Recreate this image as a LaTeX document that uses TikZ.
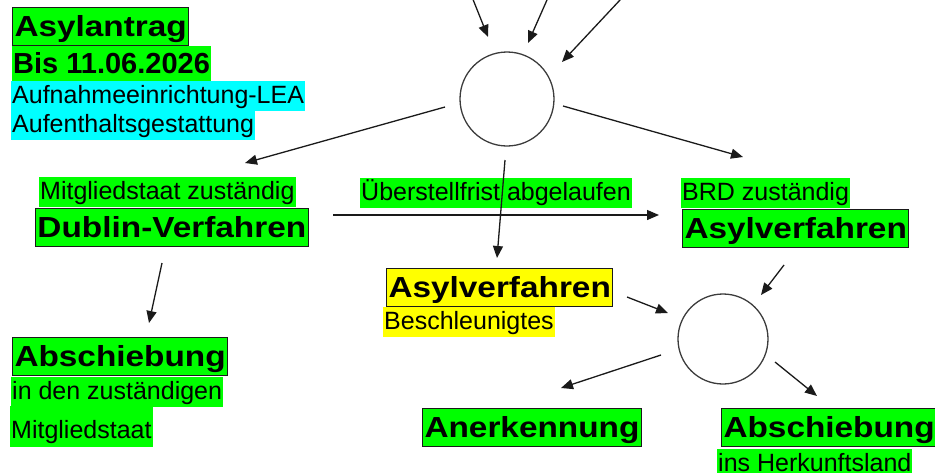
\documentclass[tikz,border=0pt]{standalone}
\usepackage{fontspec}
\setmainfont{Liberation Sans}
\newfontfamily\headfont[FakeStretch=1.15]{Liberation Sans}
\usetikzlibrary{arrows.meta}
\definecolor{hlgreen}{HTML}{00FF00}
\definecolor{hlcyan}{HTML}{00FFFF}
\definecolor{hlyellow}{HTML}{FFFF00}
\definecolor{ink}{HTML}{1A1A1A}
\begin{document}
\begin{tikzpicture}[x=1pt,y=-1pt,
  hl/.style={anchor=north west, inner xsep=1pt, inner ysep=0.5pt,
    text height=22pt, text depth=6.5pt, font=\fontsize{25}{30}\selectfont},
  hltall/.style={hl, inner ysep=1pt, text height=31pt, text depth=7.5pt},
  headbox/.style={anchor=north west, draw=ink, line width=1pt, inner xsep=2pt,
    inner ysep=3pt, text height=26pt, text depth=6pt,
    font=\headfont\bfseries\fontsize{29}{34}\selectfont},
  datebox/.style={anchor=north west, inner xsep=1pt, inner ysep=1pt,
    text height=26pt, text depth=7pt, font=\bfseries\fontsize{29}{34}\selectfont},
  hub/.style={circle, draw=ink!85, line width=1.3pt, inner sep=0pt},
  arr/.style={draw=ink, line width=1.3pt, -{Triangle[length=12pt,width=10pt]}}
]
\useasboundingbox (0,0) rectangle (935,472);
\clip (0,0) rectangle (935,472);

% top-left block
\node[headbox, fill=hlgreen] (asylantrag) at (12,7) {Asylantrag};
\node[datebox, fill=hlgreen] (bis) at (12,46) {Bis 11.06.2026};
\node[hl, fill=hlcyan] (lea) at (11,81) {Aufnahmeeinrichtung-LEA};
\node[hl, fill=hlcyan] (gest) at (11,110) {Aufenthaltsgestattung};

% hubs
\node[hub, minimum size=94pt] (hub1) at (507,99) {};
\node[hub, minimum size=90pt] (hub2) at (723,339) {};

% middle row
\node[hl, fill=hlgreen] (mitz) at (39,177) {Mitgliedstaat zuständig};
\node[headbox, fill=hlgreen] (dublin) at (35,208) {Dublin-Verfahren};
\node[hl, fill=hlgreen] (frist) at (360,178) {Überstellfrist abgelaufen};
\node[hl, fill=hlgreen] (brd) at (681,178) {BRD zuständig};
\node[headbox, fill=hlgreen] (asylv) at (682,209) {Asylverfahren};

% accelerated procedure
\node[headbox, fill=hlyellow] (asylvb) at (386,268) {Asylverfahren};
\node[hl, fill=hlyellow] (beschl) at (383,307) {Beschleunigtes};

% bottom left
\node[headbox, fill=hlgreen] (absch1) at (12,337) {Abschiebung};
\node[hl, fill=hlgreen] (inden) at (11,377) {in den zuständigen};
\node[hltall, fill=hlgreen] (mitgl) at (10,406) {Mitgliedstaat};

% bottom right
\node[headbox, fill=hlgreen] (anerk) at (422,408) {Anerkennung};
\node[headbox, fill=hlgreen] (absch2) at (721,408) {Abschiebung};
\node[hl, fill=hlgreen] (herk) at (717,449) {ins Herkunftsland};

% arrow end points
\coordinate (t1s) at (470,-8);   \coordinate (t1e) at (488,37);
\coordinate (t2s) at (550.5,-8); \coordinate (t2e) at (528,43);
\coordinate (t3s) at (627.5,-8); \coordinate (t3e) at (562,62);
\coordinate (ls) at (445,107);   \coordinate (le) at (245,163);
\coordinate (rs) at (563,106);   \coordinate (re) at (743,157);
\coordinate (vs) at (505,160);   \coordinate (ve) at (497,258);
\coordinate (hs) at (333,215);   \coordinate (he) at (659,215);
\coordinate (ds) at (162,263);   \coordinate (de) at (149,323);
\coordinate (ys) at (627,297);   \coordinate (ye) at (668,313);
\coordinate (bs) at (784,265);   \coordinate (be) at (761,295);
\coordinate (as) at (661,355);   \coordinate (ae) at (561,388);
\coordinate (xs) at (775,362);   \coordinate (xe) at (817,396);

\draw[arr] (t1s) -- (t1e);
\draw[arr] (t2s) -- (t2e);
\draw[arr] (t3s) -- (t3e);
\draw[arr] (ls) -- (le);
\draw[arr] (rs) -- (re);
\draw[arr] (vs) -- (ve);
\draw[arr] (hs) -- (he);
\draw[arr] (ds) -- (de);
\draw[arr] (ys) -- (ye);
\draw[arr] (bs) -- (be);
\draw[arr] (as) -- (ae);
\draw[arr] (xs) -- (xe);
\end{tikzpicture}
\end{document}
